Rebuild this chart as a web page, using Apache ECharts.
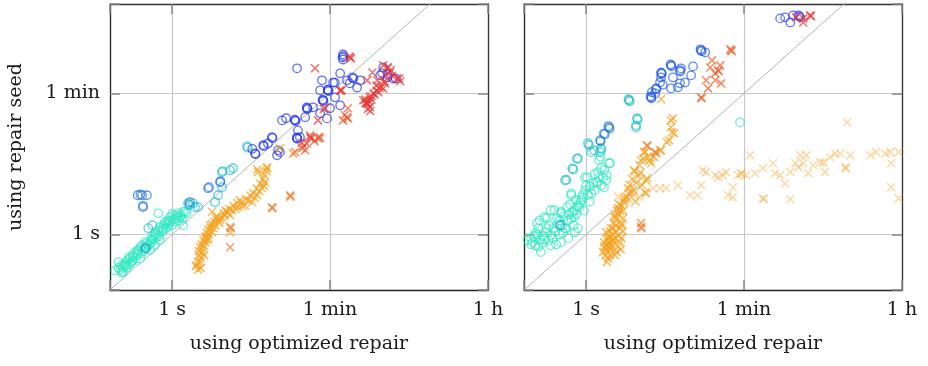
<!DOCTYPE html>
<html>
<head>
<meta charset="utf-8">
<script src="https://cdn.jsdelivr.net/npm/echarts@6/dist/echarts.min.js"></script>
<style>
html, body { margin: 0; padding: 0; background: #fff; }
#chart { width: 928px; height: 366px; }
</style>
</head>
<body>
<div id="chart"></div>
<script>
// durations in seconds: [optimized repair, repair seed]
const xMin = 0.2, xMax = 3600, yMin = 0.2, yMax = 800;
const tickValues = [1, 60, 3600];
const tickNames = ['1 s', '1 min', '1 h'];

// ---- left panel ----
const leftCyan = [[0.25,0.38],[0.26,0.36],[0.27,0.41],[0.30,0.45],[0.32,0.48],[0.34,0.50],[0.36,0.55],[0.38,0.60],[0.41,0.64],[0.44,0.69],[0.46,0.73],[0.50,0.80],[0.52,0.67],[0.57,0.85],[0.60,0.95],[0.64,0.98],[0.70,1.13],[0.73,1.24],[0.79,1.31],[0.83,1.43],[0.88,1.43],[0.95,1.65],[1.0,1.8],[1.08,1.75],[1.17,1.85],[1.23,1.65],[1.33,1.93],[1.40,1.93],[0.70,1.85],[0.41,0.55],[0.44,0.50],[0.57,0.64],[0.64,0.73],[0.73,0.85],[0.32,0.41],[0.35,0.45],[0.25,0.45],[0.28,0.34],[0.30,0.40],[0.36,0.47],[0.48,0.62],[0.55,0.75],[0.62,0.88],[0.68,1.0],[0.76,1.1],[0.85,1.2],[0.92,1.35],[1.05,1.55],[1.12,1.6],[0.90,1.5],[0.80,1.15],[0.66,0.92],[0.52,0.78],[0.40,0.58],[0.33,0.52],[0.28,0.39],[1.0,1.31],[1.33,1.31],[1.2,1.5],[0.23,0.35],[0.27,0.33],[0.29,0.42],[0.31,0.38],[0.34,0.43],[0.37,0.52],[0.39,0.5],[0.42,0.62],[0.45,0.58],[0.49,0.7],[0.53,0.72],[0.58,0.78],[0.6,0.85],[0.65,1.05],[0.72,0.95],[0.78,1.2],[0.86,1.35],[0.9,1.25],[0.95,1.45],[1.1,1.45],[1.15,1.7],[1.25,1.75],[1.3,1.6],[1.45,1.85]];
const leftTeal = [[1.51,2.48],[1.55,2.4],[1.59,2.34],[1.72,2.48],[1.81,2.21],[1.96,2.21],[3.05,2.55],[3.29,3.12],[3.65,3.94],[3.65,6.1],[3.7,6.3],[4.5,6.44],[4.85,6.83],[6.98,12.9],[7.1,12.4],[0.54,1.20],[0.60,1.31]];
const leftAzure = [[0.41,3.12],[0.44,3.2],[0.46,3.12],[0.52,3.12],[0.47,2.21],[0.47,2.3],[2.54,3.83],[2.6,3.95],[3.47,4.55],[3.5,4.7],[0.50,0.67],[1.59,2.55]];
const leftBlue = [[8.6,10.5],[8.7,10.3],[10.6,13.3],[10.8,13.0],[13.3,16.8],[13.5,16.4],[15.6,11.5],[16.4,10.9],[15.2,9.95],[17.3,27.4],[19.2,29.1],[24.3,27.4],[24.6,26.8],[24.0,28.0],[25.5,16.3],[25.8,16.0],[25.3,16.7],[26.1,20.5],[27.5,16.8],[31.5,30],[33.1,38.9],[33.5,38.0],[32.8,39.8],[38.6,40],[46.4,33.6],[55.5,29.0],[50,49],[50.6,48],[49.4,50],[46.4,65.5],[57,65.5],[57.6,64],[56.4,67],[48.7,87.5],[60,38.9],[68.3,53.4],[65,82],[78,42.4],[78,107],[68,82],[84,185],[84,160],[85,175],[83,170],[93,87.5],[107,95],[121,71],[131,87.5],[110,92],[100,80],[238,127],[232,107],[264,95],[309,92],[330,92],[220,101],[270,103],[25.5,124],[8.0,12.0],[12,14]];
const leftOrange = [[9.3,6.1],[11.7,6.83],[11.1,4.55],[10.3,3.83],[9.05,3.12],[7.95,2.55],[6.6,2.34],[5.5,2.21],[4.73,2.02],[4.5,1.75],[3.65,1.65],[3.29,1.51],[3.05,1.31],[2.82,1.93],[4.5,1.07],[2.82,1.07],[2.54,0.90],[2.35,0.80],[2.18,0.60],[2.07,0.51],[1.91,0.41],[1.96,0.36],[2.2,0.67],[2.67,1.31],[3.9,1.75],[5.8,2.7],[7.2,2.7],[16.4,12.2],[11.7,7.0],[9.1,6.6],[2.9,1.2],[3.4,1.4],[2.4,0.95],[2.0,0.55],[2.1,0.45],[2.3,0.72],[5.2,2.1],[6.2,2.3],[8.5,2.9],[9.6,3.5],[10.8,4.1],[3.1,1.6],[2.6,1.0],[4.2,1.9],[1.95,0.45],[2.0,0.62],[2.05,0.7],[2.15,0.75],[2.25,0.85],[2.35,0.9],[2.45,1.05],[2.55,1.15],[2.7,1.2],[2.8,1.35],[3.0,1.45],[3.2,1.7],[3.5,1.55],[3.8,1.85],[4.0,2.0],[4.4,2.1],[4.9,2.3],[5.4,2.5],[6.0,2.55],[6.8,2.8],[7.6,3.1],[8.2,3.3],[9.0,3.8],[9.8,4.4],[10.5,5.0],[11.0,5.6],[11.5,6.3],[2.1,0.38],[1.85,0.40],[2.3,0.55],[2.5,0.85]];
const leftDarkOrange = [[4.5,1.24],[4.6,1.2],[4.5,0.69],[13.3,2.21],[13.5,2.15],[21.3,3.12],[21.6,3.0],[23,10.5],[24.3,10.9]];
const leftRedOrange = [[29,12.2],[31.5,11.5],[43.9,16.3],[46.4,16.3],[35.8,17.8],[93,30],[95,29],[84,27.4],[95,38.9],[88,32],[40,15],[45,17],[33,14],[30,13]];
const leftRed = [[101,170],[103,165],[99,175],[40.6,124],[78,65.5],[81,65.5],[79,64],[157,87.5],[204,87.5],[264,127],[285,110],[342,92],[238,69],[210,62],[168,53.4],[157,44.9],[160,44],[154,46],[168,40],[142,49],[185,60],[238,135],[270,127],[180,110],[52.7,38.9],[51,38],[43.9,27.4],[35.8,16.8],[36.5,16.3],[29,14.3],[360,92],[370,85],[250,80],[200,75],[175,55],[150,50],[150,45],[165,48],[175,50],[190,58],[200,65],[215,70],[225,72],[245,85],[255,100],[290,118],[300,100],[160,38],[170,36]];

// ---- right panel ----
const rightCyan = [[0.28,1.39],[0.34,1.65],[0.44,2.02],[0.52,1.85],[0.54,1.31],[0.73,1.65],[0.79,2.21],[0.61,2.21],[0.90,2.95],[0.77,2.70],[0.68,3.3],[1.14,3.3],[1.03,5.23],[1.0,4.17],[1.48,11.5],[1.40,8.61],[1.48,7.0],[1.40,5.23],[1.59,3.94],[1.81,7.9],[1.68,4.82],[1.86,7.9],[1.36,6.1],[0.97,5.23],[1.05,3.12],[0.68,3.12],[0.81,2.34],[0.52,1.93],[0.40,2.02],[0.68,1.58],[0.81,1.2],[0.29,1.2],[0.24,0.90],[0.27,0.73],[0.31,0.60],[0.40,0.73],[0.52,0.80],[0.40,0.98],[0.63,0.90],[0.75,1.07],[0.35,1.07],[1.48,4.17],[0.25,0.80],[0.30,0.85],[0.33,0.95],[0.45,1.1],[0.50,1.0],[0.58,1.2],[0.62,1.5],[0.47,1.6],[0.38,1.3],[0.28,1.0],[0.70,1.9],[0.86,2.5],[0.95,2.0],[1.1,2.6],[1.25,3.6],[1.3,4.6],[54,25.9],[0.24,0.75],[0.26,0.95],[0.27,1.05],[0.29,0.7],[0.32,0.78],[0.34,0.88],[0.36,1.2],[0.38,0.85],[0.42,0.9],[0.43,1.2],[0.46,0.75],[0.48,1.35],[0.50,1.5],[0.55,1.05],[0.56,1.7],[0.60,1.2],[0.64,1.8],[0.66,2.4],[0.72,1.3],[0.74,2.0],[0.78,1.8],[0.84,2.2],[0.88,2.7],[0.92,3.2],[0.98,3.6],[1.1,4.0],[1.2,4.4],[1.25,5.8],[1.35,4.5],[1.55,5.2],[1.6,6.5],[1.7,5.6],[1.45,9.5],[0.30,1.5],[0.36,1.6],[0.22,0.85]];
const rightTeal = [[3.05,49],[3.1,47.5],[3.0,50.5],[3.75,29.1],[3.8,28],[3.65,23.7],[3.65,22.4],[1.05,14.1],[1.08,13.3],[1.23,11.5],[1.48,12.2],[1.14,10.9],[1.44,10.9],[0.81,9.1],[0.58,4.82],[0.60,4.9],[0.70,6.8],[0.72,6.6],[0.79,9.0]];
const rightAzure = [[1.81,22.4],[1.84,21.6],[1.78,23.2],[1.59,18.8],[1.62,18.2],[1.44,15.4],[1.46,14.9],[0.51,1.31]];
const rightBlue = [[5.39,53.4],[5.45,52],[5.33,55],[6.0,60],[6.13,69.3],[6.2,68],[5.5,62],[6.98,110],[7.05,106],[6.98,95],[6.8,82],[7.3,77],[7.1,107],[9.05,135],[9.15,131],[8.95,139],[11.4,117],[11.5,113],[9.05,69.3],[10.8,71.4],[11.4,80.2],[13,82],[15.2,101],[16,131],[9.5,95],[11.7,124],[19.7,209],[20,203],[19.4,215],[21.9,197]];
const rightTopBlue = [[153,527],[174,543],[199,469],[214,575],[246,575],[250,560],[258,543]];
const rightOrange = [[2.23,2.02],[2.07,1.65],[2.48,1.39],[2.29,2.15],[2.12,1.75],[2.48,1.31],[1.91,1.2],[1.77,0.90],[1.68,0.67],[1.86,0.55],[2.29,0.98],[2.41,1.2],[1.59,0.80],[1.96,0.73],[1.68,1.07],[2.07,0.85],[1.55,0.60],[1.77,0.50],[2.68,2.70],[3.21,3.4],[2.75,2.85],[2.97,3.83],[3.47,6.44],[3.55,6.2],[4.16,8.61],[4.27,4.17],[4.73,4.82],[4.73,3.3],[4.6,3.4],[4.86,5.1],[5.39,7.9],[4.62,10.9],[4.5,10.9],[6.98,11.5],[6.8,11.5],[9.05,27.4],[9.3,19.4],[8.6,15.4],[8.1,14.6],[9.5,29.1],[9.05,22.4],[9.8,18.8],[6.98,50.4],[1.8,0.78],[2.0,1.0],[2.2,1.1],[1.7,0.62],[1.85,0.70],[2.6,1.6],[2.35,2.4],[3.9,5.5],[4.0,7.5],[3.6,2.6],[5.0,9.5],[1.65,0.55],[1.7,0.72],[1.75,0.85],[1.8,0.95],[1.85,1.1],[1.9,0.65],[1.95,0.85],[2.0,1.2],[2.05,1.4],[2.1,0.9],[2.15,1.3],[2.2,1.6],[2.3,1.8],[2.4,2.0],[2.5,2.3],[2.6,2.0],[2.7,2.5],[2.85,3.0],[3.0,3.3],[3.1,4.2],[3.3,5.0],[3.4,3.6],[3.7,4.5],[4.1,6.0],[4.4,9.0],[5.2,8.5],[5.8,9.5],[1.6,0.7],[1.72,0.45],[2.3,0.7],[2.4,0.8],[2.5,0.9],[2.6,1.1],[2.2,0.6],[2.45,0.65],[2.1,0.55]];
const rightDarkOrange = [[4.16,1.39],[4.16,1.24],[4.2,1.2],[6.0,10.9],[6.1,10.6],[4.85,13.3],[4.9,13.0]];
const rightRedOrange = [[25,127],[28.4,107],[22.4,87.5],[23.6,69.3],[19.7,53.4],[20,52],[30.6,117],[31,114],[32.3,135],[33.1,80],[28.4,87.5],[42.8,209],[43.5,203],[42,215],[26.2,156]];
const rightRed = [[232,543],[279,527],[334,575],[340,560],[279,469]];
const rightLight = [[5.67,3.83],[6.8,3.83],[7.95,3.83],[10.8,4.17],[14.8,3.12],[18.1,3.12],[19.7,4.17],[22.4,6.1],[20.7,6.44],[28.4,5.57],[30.6,5.23],[34.7,5.57],[37.6,6.1],[51,5.57],[55.5,5.9],[56,5.8],[63.2,5.57],[70,9.95],[80,5.9],[98,6.83],[127,7.9],[134,5.9],[153,5.57],[174,4.4],[199,6.1],[226,7.9],[258,9.95],[246,7.0],[301,9.95],[317,5.9],[360,7.45],[433,8.1],[470,8.1],[490,6.1],[560,9.4],[640,10.5],[725,10.5],[830,7.0],[845,6.8],[940,9.95],[1580,9.95],[1845,10.9],[2340,10.5],[2660,10.9],[3300,10.9],[2720,7.9],[2720,3.94],[3300,2.85],[39.5,3.12],[44.9,3.94],[44.9,2.95],[98,2.85],[100,2.8],[199,2.78],[279,7.9],[870,25.9],[2.3,3.0],[3.0,2.8],[3.5,3.2],[4.0,3.0]];

function fmt(v) {
    for (let i = 0; i < tickValues.length; i++) {
        if (Math.abs(v - tickValues[i]) / tickValues[i] < 1e-6) return tickNames[i];
    }
    return '';
}

const font = 'DejaVu Serif';

function mainX(gi, name) {
    return {
        type: 'log', logBase: 60, gridIndex: gi, min: xMin, max: xMax,
        name: name, nameLocation: 'middle', nameGap: 45,
        nameTextStyle: {fontFamily: font, fontSize: 19, color: '#1a1a1a'},
        axisLine: {lineStyle: {color: '#222', width: 1.3}},
        axisTick: {inside: true, length: 10, lineStyle: {color: '#888', width: 1.5}},
        axisLabel: {formatter: fmt, margin: 11, fontFamily: font, fontSize: 19, color: '#1a1a1a'},
        splitLine: {show: true, lineStyle: {color: '#c8c8c8', width: 1.2}}
    };
}
function mainY(gi, showLabels) {
    return {
        type: 'log', logBase: 60, gridIndex: gi, min: yMin, max: yMax,
        name: showLabels ? 'using repair seed' : '', nameLocation: 'middle', nameGap: 84,
        nameTextStyle: {fontFamily: font, fontSize: 19, color: '#1a1a1a'},
        axisLine: {lineStyle: {color: '#222', width: 1.3}},
        axisTick: {inside: true, length: 10, lineStyle: {color: '#888', width: 1.5}},
        axisLabel: {show: showLabels, formatter: fmt, margin: 10, fontFamily: font, fontSize: 19, color: '#1a1a1a'},
        splitLine: {show: true, lineStyle: {color: '#c8c8c8', width: 1.2}}
    };
}
function edgeAxis(gi, isX) {
    return {
        type: 'log', logBase: 60, gridIndex: gi,
        min: isX ? xMin : yMin, max: isX ? xMax : yMax,
        position: isX ? 'top' : 'right',
        axisLine: {onZero: false, lineStyle: {color: '#333', width: 1.3}},
        axisTick: {inside: true, length: 10, lineStyle: {color: '#888', width: 1.5}},
        axisLabel: {show: false},
        splitLine: {show: false}
    };
}

function circles(data, color, gi, alpha) {
    return {
        type: 'scatter', xAxisIndex: gi, yAxisIndex: gi, data: data,
        symbol: 'circle', symbolSize: 8.5, silent: true,
        itemStyle: {color: 'transparent', borderColor: color, borderWidth: 1.3, opacity: alpha || 0.7}
    };
}
function crosses(data, color, gi, alpha) {
    return {
        type: 'scatter', xAxisIndex: gi, yAxisIndex: gi, data: data,
        symbol: 'path://M0,0L10,10M10,0L0,10', symbolSize: 8, silent: true,
        itemStyle: {color: 'transparent', borderColor: color, borderWidth: 1.5, opacity: alpha || 0.72}
    };
}
function diagonal(gi) {
    return {
        type: 'line', xAxisIndex: gi, yAxisIndex: gi, silent: true, symbol: 'none', z: 1,
        data: [[xMin, yMin], [yMax, yMax]],
        lineStyle: {color: '#b4b4b4', width: 1}
    };
}

const chart = echarts.init(document.getElementById('chart'), null, {renderer: 'canvas'});
chart.setOption({
    animation: false,
    backgroundColor: '#fff',
    grid: [
        {left: 110, right: 440, top: 4, bottom: 76},
        {left: 524, right: 26, top: 4, bottom: 76}
    ],
    xAxis: [
        mainX(0, 'using optimized repair'),
        mainX(1, 'using optimized repair'),
        edgeAxis(0, true),
        edgeAxis(1, true)
    ],
    yAxis: [
        mainY(0, true),
        mainY(1, false),
        edgeAxis(0, false),
        edgeAxis(1, false)
    ],
    series: [
        diagonal(0),
        diagonal(1),
        circles(leftCyan, '#2ee8c0', 0),
        circles(leftTeal, '#16bccf', 0),
        circles(leftAzure, '#1a6ee6', 0),
        circles(leftBlue, '#1c30f0', 0),
        crosses(leftOrange, '#f5a01a', 0),
        crosses(leftDarkOrange, '#f07a26', 0),
        crosses(leftRedOrange, '#f0542a', 0),
        crosses(leftRed, '#ea3430', 0),
        circles(rightCyan, '#2ee8c0', 1),
        circles(rightTeal, '#16bccf', 1),
        circles(rightAzure, '#1878e0', 1),
        circles(rightBlue, '#1a55e8', 1),
        circles(rightTopBlue, '#2a36f0', 1),
        crosses(rightOrange, '#f5a01a', 1),
        crosses(rightDarkOrange, '#f07a26', 1),
        crosses(rightRedOrange, '#f0602a', 1),
        crosses(rightRed, '#ea3430', 1),
        crosses(rightLight, '#f8a838', 1, 0.45)
    ]
});
</script>
</body>
</html>
